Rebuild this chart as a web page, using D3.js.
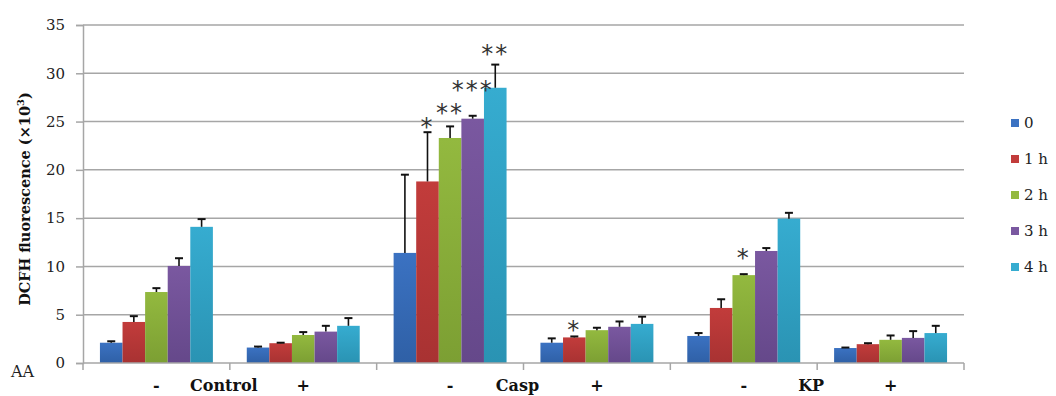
<!DOCTYPE html>
<html><head><meta charset="utf-8">
<script src="https://cdn.jsdelivr.net/npm/d3@7"></script>
<style>
html,body{margin:0;padding:0;background:#fff;}
svg{display:block;}
</style></head>
<body>
<svg id="chart" width="1056" height="396"></svg>
<script>
// ---- data ----
const categories = ["-", "+", "-", "+", "-", "+"];
const groups = ["Control", "Casp", "KP"];
const seriesNames = ["0", "1 h", "2 h", "3 h", "4 h"];
const yTicks = [0, 5, 10, 15, 20, 25, 30, 35];

const s0 = [2.1, 1.6, 11.4, 2.1, 2.8, 1.55];
const s1 = [4.25, 2.05, 18.8, 2.65, 5.7, 1.95];
const s2 = [7.35, 2.9, 23.3, 3.4, 9.1, 2.4];
const s3 = [10.05, 3.25, 25.3, 3.75, 11.6, 2.6];
const s4 = [14.1, 3.85, 28.5, 4.05, 14.95, 3.1];

const e0 = [0.15, 0.1, 8.1, 0.45, 0.3, 0.05];
const e1 = [0.6, 0.05, 5.1, 0.1, 0.9, 0.1];
const e2 = [0.4, 0.3, 1.2, 0.25, 0.1, 0.45];
const e3 = [0.8, 0.6, 0.3, 0.55, 0.3, 0.7];
const e4 = [0.8, 0.8, 2.4, 0.75, 0.6, 0.75];

// significance marks: category index, series index, label, anchor level (data units)
const sigCat = [2, 2, 2, 2, 3, 4];
const sigSeries = [1, 2, 3, 4, 1, 2];
const sigLabel = ["*", "**", "***", "**", "*", "*"];
const sigLevel = [25.0, 26.4, 28.8, 32.5, 3.9, 11.4];

const values = [s0, s1, s2, s3, s4];
const errors = [e0, e1, e2, e3, e4];
const colors = ["#3b72c2", "#c23c3b", "#93b93f", "#7a58a0", "#36acd0"];
const colorsDark = ["#2f60a6", "#a83232", "#7c9f33", "#65488a", "#2a93b3"];

// ---- layout ----
const svg = d3.select("#chart");
const mLeft = 83, mRight = 964, mTop = 25, mBottom = 363;
const serif = "'DejaVu Serif', 'Liberation Serif', serif";

const y = d3.scaleLinear().domain([0, 35]).range([mBottom, mTop]);
const x0 = d3.scaleBand().domain(d3.range(categories.length)).range([mLeft, mRight]).padding(0);
const x1 = d3.scaleBand().domain(d3.range(seriesNames.length)).range([0, x0.bandwidth()])
  .paddingInner(0).paddingOuter(0.75);

// gradients
const defs = svg.append("defs");
colors.forEach((c, i) => {
  const g = defs.append("linearGradient").attr("id", "g" + i)
    .attr("x1", 0).attr("y1", 0).attr("x2", 0).attr("y2", 1);
  g.append("stop").attr("offset", "0%").attr("stop-color", c);
  g.append("stop").attr("offset", "100%").attr("stop-color", colorsDark[i]);
});

// gridlines
svg.append("g").selectAll("line").data(yTicks.filter(d => d > 0)).join("line")
  .attr("x1", mLeft).attr("x2", mRight)
  .attr("y1", d => y(d)).attr("y2", d => y(d))
  .attr("stroke", "#a6a6a6").attr("stroke-width", 1.5);

// y axis
const yAxis = svg.append("g").attr("transform", `translate(${mLeft},0)`)
  .call(d3.axisLeft(y).tickValues(yTicks).tickSize(7).tickPadding(11));
yAxis.select(".domain").attr("stroke", "#a6a6a6").attr("stroke-width", 1.5);
yAxis.selectAll(".tick line").attr("stroke", "#a6a6a6").attr("stroke-width", 1.5);
yAxis.selectAll(".tick text").attr("font-family", serif).attr("font-size", 15).attr("fill", "#222");

// bars
const barG = svg.append("g");
values.forEach((vals, si) => {
  barG.append("g").selectAll("rect").data(vals).join("rect")
    .attr("x", (d, ci) => x0(ci) + x1(si))
    .attr("y", d => y(d))
    .attr("width", x1.bandwidth())
    .attr("height", d => y(0) - y(d))
    .attr("fill", `url(#g${si})`);
});

// error bars (plus direction)
const capW = 8;
values.forEach((vals, si) => {
  const g = svg.append("g").attr("stroke", "#111").attr("stroke-width", 1.6);
  vals.forEach((v, ci) => {
    const cx = x0(ci) + x1(si) + x1.bandwidth() / 2;
    const yt = y(v + errors[si][ci]);
    g.append("line").attr("x1", cx).attr("x2", cx).attr("y1", y(v)).attr("y2", yt);
    g.append("line").attr("x1", cx - capW / 2).attr("x2", cx + capW / 2).attr("y1", yt).attr("y2", yt)
      .attr("stroke-width", 2);
  });
});

// x axis
const xg = svg.append("g");
xg.append("line").attr("x1", mLeft).attr("x2", mRight).attr("y1", y(0)).attr("y2", y(0))
  .attr("stroke", "#a6a6a6").attr("stroke-width", 1.5);
xg.selectAll("line.tk").data(d3.range(categories.length + 1)).join("line").attr("class", "tk")
  .attr("x1", i => i < categories.length ? x0(i) : x0(i - 1) + x0.bandwidth())
  .attr("x2", i => i < categories.length ? x0(i) : x0(i - 1) + x0.bandwidth())
  .attr("y1", y(0)).attr("y2", y(0) + 7)
  .attr("stroke", "#a6a6a6").attr("stroke-width", 1.5);
xg.selectAll("text.cat").data(categories).join("text").attr("class", "cat")
  .attr("x", (d, i) => x0(i) + x0.bandwidth() / 2)
  .attr("y", 391)
  .attr("text-anchor", "middle")
  .attr("font-family", serif).attr("font-size", 16).attr("font-weight", "bold").attr("fill", "#111")
  .text(d => d);
xg.selectAll("text.grp").data(groups).join("text").attr("class", "grp")
  .attr("x", (d, i) => x0(2 * i + 1) - 6)
  .attr("y", 391)
  .attr("text-anchor", "middle")
  .attr("font-family", serif).attr("font-size", 16).attr("font-weight", "bold").attr("fill", "#111")
  .text(d => d);

// significance marks
svg.append("g").selectAll("text").data(sigLabel).join("text")
  .attr("x", (d, i) => x0(sigCat[i]) + x1(sigSeries[i]) + x1.bandwidth() / 2)
  .attr("y", (d, i) => y(sigLevel[i]) + 13)
  .attr("text-anchor", "middle")
  .attr("font-family", "'DejaVu Sans', sans-serif").attr("font-size", 24)
  .attr("letter-spacing", 2)
  .attr("fill", "#333")
  .text(d => d);

// y axis title
const yt = svg.append("text")
  .attr("transform", `translate(30,${(mTop + mBottom) / 2 + 5}) rotate(-90)`)
  .attr("text-anchor", "middle")
  .attr("font-family", serif).attr("font-size", 14.5).attr("font-weight", "bold").attr("fill", "#111");
yt.append("tspan").text("DCFH fluorescence (×10");
yt.append("tspan").attr("dy", -6).attr("font-size", 10).text("3");
yt.append("tspan").attr("dy", 6).text(")");

// AA label
svg.append("text").attr("x", 11).attr("y", 377)
  .attr("font-family", serif).attr("font-size", 16).attr("fill", "#222").text("AA");

// legend
const legY = d3.scalePoint().domain(seriesNames).range([123, 267]);
const leg = svg.append("g");
seriesNames.forEach((s, i) => {
  leg.append("rect").attr("x", 1011).attr("y", legY(s) - 4).attr("width", 8).attr("height", 8)
    .attr("fill", colors[i]);
  leg.append("text").attr("x", 1024).attr("y", legY(s) + 5)
    .attr("font-family", serif).attr("font-size", 15).attr("fill", "#222").text(s);
});
</script>
</body></html>
